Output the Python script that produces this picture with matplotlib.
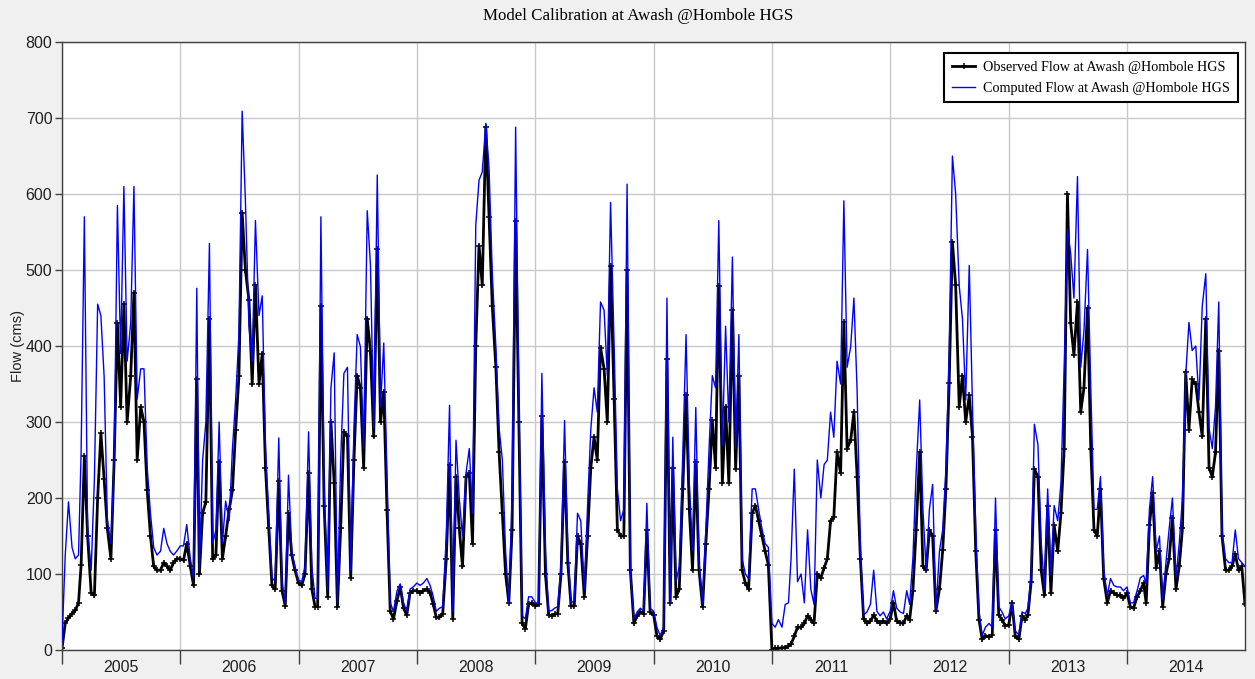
import matplotlib.pyplot as plt
import matplotlib.dates as mdates
from matplotlib.ticker import NullFormatter
import numpy as np
import pandas as pd

# dekadal flows (cms): values on day 1, 11 and 21 of every month
obs_2005 = [2, 35, 42, 48, 52, 62, 112, 255, 150, 75, 72, 200, 285, 225, 160, 120, 250, 430,
            320, 455, 300, 360, 470, 250, 320, 300, 210, 150, 110, 105, 105, 115, 110, 105, 115, 120]
sim_2005 = [10, 125, 195, 135, 120, 125, 260, 570, 160, 105, 225, 455, 440, 360, 170, 140, 250, 585,
            390, 610, 380, 430, 610, 330, 370, 370, 240, 180, 135, 125, 130, 160, 140, 130, 125, 130]
obs_2006 = [120, 118, 140, 110, 85, 356, 100, 180, 195, 436, 120, 125, 248, 120, 150, 185, 210, 290,
            360, 575, 500, 460, 350, 480, 350, 390, 240, 160, 85, 80, 222, 78, 58, 180, 125, 105]
sim_2006 = [137, 137, 165, 120, 95, 476, 105, 250, 300, 535, 140, 158, 300, 140, 196, 170, 265, 330,
            415, 709, 591, 426, 380, 565, 440, 466, 265, 180, 95, 90, 279, 90, 62, 230, 130, 110]
obs_2007 = [88, 85, 100, 233, 80, 57, 57, 452, 190, 70, 300, 220, 57, 160, 287, 281, 95, 250,
            361, 345, 240, 436, 393, 281, 527, 300, 340, 184, 51, 41, 65, 83, 55, 46, 75, 78]
sim_2007 = [92, 90, 110, 287, 110, 68, 68, 570, 212, 78, 345, 391, 62, 250, 364, 372, 105, 292,
            415, 399, 265, 578, 506, 292, 625, 320, 404, 230, 62, 51, 78, 87, 62, 51, 80, 83]
obs_2008 = [78, 75, 78, 80, 75, 60, 43, 43, 48, 120, 244, 41, 228, 160, 110, 228, 233, 140,
            400, 532, 480, 688, 570, 452, 372, 260, 180, 100, 62, 158, 565, 300, 35, 28, 60, 62]
sim_2008 = [88, 85, 88, 94, 85, 70, 51, 55, 57, 150, 322, 51, 276, 200, 150, 233, 265, 180,
            559, 618, 629, 693, 634, 495, 399, 292, 250, 130, 62, 200, 688, 330, 45, 41, 70, 70]
obs_2009 = [58, 60, 308, 100, 46, 45, 47, 48, 100, 248, 115, 58, 58, 150, 140, 70, 150, 240,
            280, 250, 398, 370, 300, 505, 330, 158, 150, 150, 500, 105, 35, 45, 50, 48, 158, 50]
sim_2009 = [62, 62, 364, 130, 51, 52, 55, 57, 110, 302, 130, 62, 65, 180, 170, 80, 190, 290,
            345, 313, 458, 447, 361, 589, 400, 212, 170, 185, 613, 105, 41, 50, 55, 51, 193, 55]
obs_2010 = [46, 19, 14, 25, 383, 62, 240, 70, 80, 212, 335, 185, 105, 248, 105, 57, 140, 212,
            302, 240, 479, 220, 320, 220, 447, 238, 361, 105, 88, 80, 180, 190, 170, 150, 130, 112]
sim_2010 = [51, 30, 19, 30, 463, 62, 280, 90, 110, 260, 415, 220, 131, 319, 115, 62, 158, 265,
            361, 345, 565, 270, 426, 300, 517, 265, 415, 120, 100, 94, 212, 212, 185, 160, 140, 135]
obs_2011 = [0, 2, 2, 3, 3, 5, 8, 18, 30, 30, 35, 45, 40, 35, 100, 95, 108, 120,
            170, 175, 260, 233, 431, 265, 276, 313, 228, 120, 41, 35, 38, 46, 38, 35, 38, 35]
sim_2011 = [35, 30, 40, 30, 60, 62, 120, 238, 90, 100, 62, 158, 80, 60, 250, 200, 244, 250,
            313, 280, 380, 350, 591, 372, 399, 463, 340, 131, 46, 50, 60, 105, 51, 45, 50, 41]
obs_2012 = [41, 62, 38, 36, 35, 45, 40, 78, 158, 260, 110, 105, 158, 150, 51, 80, 131, 212,
            351, 537, 480, 320, 361, 300, 335, 280, 130, 40, 14, 19, 17, 20, 158, 46, 40, 32]
sim_2012 = [51, 78, 55, 50, 48, 78, 60, 120, 233, 329, 185, 105, 185, 218, 51, 130, 158, 238,
            393, 650, 600, 479, 436, 329, 506, 320, 158, 51, 19, 30, 35, 30, 200, 57, 50, 41]
obs_2013 = [33, 62, 18, 14, 45, 40, 46, 90, 238, 228, 105, 72, 190, 75, 164, 130, 180, 265,
            600, 430, 388, 458, 313, 345, 450, 265, 158, 150, 212, 94, 62, 78, 75, 72, 72, 68]
sim_2013 = [45, 62, 25, 20, 50, 48, 55, 100, 297, 270, 142, 80, 212, 100, 190, 170, 220, 372,
            554, 522, 463, 623, 372, 420, 527, 345, 185, 185, 228, 105, 72, 94, 85, 83, 83, 78]
# 2014 carries one extra value for 31 December
obs_2014 = [75, 57, 55, 70, 78, 88, 62, 164, 206, 108, 130, 57, 100, 120, 174, 80, 110, 160,
            366, 290, 356, 350, 313, 281, 436, 240, 228, 260, 394, 150, 105, 105, 110, 126, 105, 110, 60]
sim_2014 = [83, 62, 62, 78, 95, 98, 88, 185, 228, 130, 150, 66, 115, 160, 200, 95, 140, 200,
            361, 431, 394, 400, 329, 452, 495, 292, 265, 320, 458, 158, 120, 115, 115, 158, 120, 115, 110]

years = list(range(2005, 2015))
dates = [pd.Timestamp(y, m, d) for y in years for m in range(1, 13) for d in (1, 11, 21)]
dates.append(pd.Timestamp(2014, 12, 31))

observed = np.concatenate([obs_2005, obs_2006, obs_2007, obs_2008, obs_2009,
                           obs_2010, obs_2011, obs_2012, obs_2013, obs_2014])
computed = np.concatenate([sim_2005, sim_2006, sim_2007, sim_2008, sim_2009,
                           sim_2010, sim_2011, sim_2012, sim_2013, sim_2014])

sans = 'Liberation Sans'
serif = 'Liberation Serif'

fig = plt.figure(figsize=(12.55, 6.79), dpi=100)
fig.patch.set_facecolor('#f0f0f0')
ax = fig.add_axes([62 / 1255, 29 / 679, 1183 / 1255, 608 / 679])
ax.set_facecolor('white')

l_obs, = ax.plot(dates, observed, color='black', lw=2, marker='+', ms=5, mew=1.1,
                 zorder=2, label='Observed Flow at Awash @Hombole HGS')
l_sim, = ax.plot(dates, computed, color='#0000ff', lw=1, zorder=3,
                 label='Computed Flow at Awash @Hombole HGS')

ax.set_xlim(pd.Timestamp(2005, 1, 1), pd.Timestamp(2014, 12, 31))
ax.set_ylim(0, 800)
ax.set_yticks(range(0, 801, 100))

ax.xaxis.set_major_locator(mdates.YearLocator())
ax.xaxis.set_major_formatter(NullFormatter())
ax.xaxis.set_minor_locator(mdates.MonthLocator(bymonth=7, bymonthday=2))
ax.xaxis.set_minor_formatter(mdates.DateFormatter('%Y'))
ax.tick_params(axis='x', which='major', length=10, width=1, color='#404040')
ax.tick_params(axis='x', which='minor', length=0, pad=7)
ax.tick_params(axis='y', length=5, width=1, color='#404040', pad=2)
for lab in ax.get_xticklabels(minor=True) + ax.get_yticklabels():
    lab.set_fontfamily(sans)
    lab.set_fontsize(11.5)
    lab.set_color('#202020')

ax.grid(True, which='major', color='#c8c8c8', lw=1)
ax.set_axisbelow(True)
for sp in ax.spines.values():
    sp.set_color('#404040')
    sp.set_linewidth(1)

ax.set_ylabel('Flow (cms)', fontfamily=sans, fontsize=10.5, color='#202020')
ax.yaxis.set_label_coords(-37 / 1183, 0.5)

fig.text(638 / 1255, 1 - 16 / 679, 'Model Calibration at Awash @Hombole HGS',
         ha='center', va='center', fontfamily=serif, fontsize=12.2)

leg = ax.legend(handles=[l_obs, l_sim], loc='upper right',
                bbox_to_anchor=(1176 / 1183, 1 - 11 / 608), borderaxespad=0,
                prop={'family': serif, 'size': 10.2}, fancybox=False, framealpha=1,
                handlelength=1.6, handletextpad=0.6, borderpad=0.55, labelspacing=0.55)
leg.get_frame().set_edgecolor('black')
leg.get_frame().set_linewidth(1.5)

fig.savefig('out.png', dpi=100, facecolor=fig.get_facecolor())
